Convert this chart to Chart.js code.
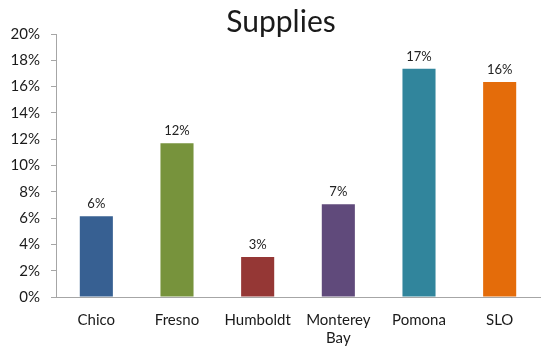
<!DOCTYPE html>
<html>
<head>
<meta charset="utf-8">
<title>Supplies</title>
<script src="https://cdn.jsdelivr.net/npm/chart.js@4"></script>
<style>
  html, body { margin: 0; padding: 0; background: #fff; }
  #wrap { width: 543px; height: 347px; }
</style>
</head>
<body>
<div id="wrap"><canvas id="suppliesChart" width="543" height="347"></canvas></div>
<script>
// Share of supplies per campus, in percent
const campuses = ['Chico', 'Fresno', 'Humboldt', ['Monterey', 'Bay'], 'Pomona', 'SLO'];
const supplyShare = [6.15, 11.7, 3.05, 7.05, 17.35, 16.35];
const barColors = ['#376092', '#77933c', '#953735', '#604a7b', '#31859c', '#e46c0a'];
const yTicks = { min: 0, max: 20, step: 2 };
const chartTitle = 'Supplies';

const axisGrey = '#a6a6a6';
const labelFont = { family: 'Lato, "Noto Sans", sans-serif', size: 15 };

// Percent labels over each bar, rounded from the bar's own value
const valueLabels = {
    id: 'valueLabels',
    afterDatasetsDraw(chart) {
        const ctx = chart.ctx;
        const meta = chart.getDatasetMeta(0);
        ctx.save();
        ctx.font = '13px Lato, "Noto Sans", sans-serif';
        ctx.fillStyle = '#222';
        ctx.textAlign = 'center';
        ctx.textBaseline = 'middle';
        meta.data.forEach((bar, i) => {
            const v = chart.data.datasets[0].data[i];
            ctx.fillText(Math.round(v) + '%', bar.x, bar.y - 12);
        });
        ctx.restore();
    }
};

// Title sits a little right of the canvas centre, in the top padding band
const titleText = {
    id: 'titleText',
    afterDraw(chart) {
        const ctx = chart.ctx;
        ctx.save();
        ctx.font = '30px Lato, "Noto Sans", sans-serif';
        ctx.fillStyle = '#1a1a1a';
        ctx.textAlign = 'center';
        ctx.textBaseline = 'alphabetic';
        ctx.fillText(chartTitle, 281, 32);
        ctx.restore();
    }
};

document.addEventListener('DOMContentLoaded', () => {
    const ctx = document.getElementById('suppliesChart').getContext('2d');
    new Chart(ctx, {
        type: 'bar',
        data: {
            labels: campuses,
            datasets: [{
                data: supplyShare,
                backgroundColor: barColors,
                barPercentage: 0.41,
                categoryPercentage: 1.0
            }]
        },
        options: {
            responsive: false,
            animation: false,
            devicePixelRatio: 1,
            layout: { padding: { left: 0, right: 3, top: 34, bottom: 0 } },
            plugins: {
                legend: { display: false },
                tooltip: { enabled: false },
                title: { display: false }
            },
            scales: {
                x: {
                    grid: { display: false },
                    border: { display: true, color: axisGrey, width: 1 },
                    ticks: { color: '#1a1a1a', font: labelFont, padding: 6, maxRotation: 0 },
                    afterFit(scale) { scale.height = 50; }
                },
                y: {
                    min: yTicks.min,
                    max: yTicks.max,
                    grid: { drawOnChartArea: false, drawTicks: true, tickLength: 5, color: axisGrey },
                    border: { display: true, color: axisGrey, width: 1 },
                    ticks: {
                        stepSize: yTicks.step,
                        color: '#1a1a1a',
                        font: labelFont,
                        padding: 11,
                        callback: v => v + '%'
                    },
                    afterFit(scale) { scale.width = 56; }
                }
            }
        },
        plugins: [valueLabels, titleText]
    });
});
</script>
</body>
</html>
